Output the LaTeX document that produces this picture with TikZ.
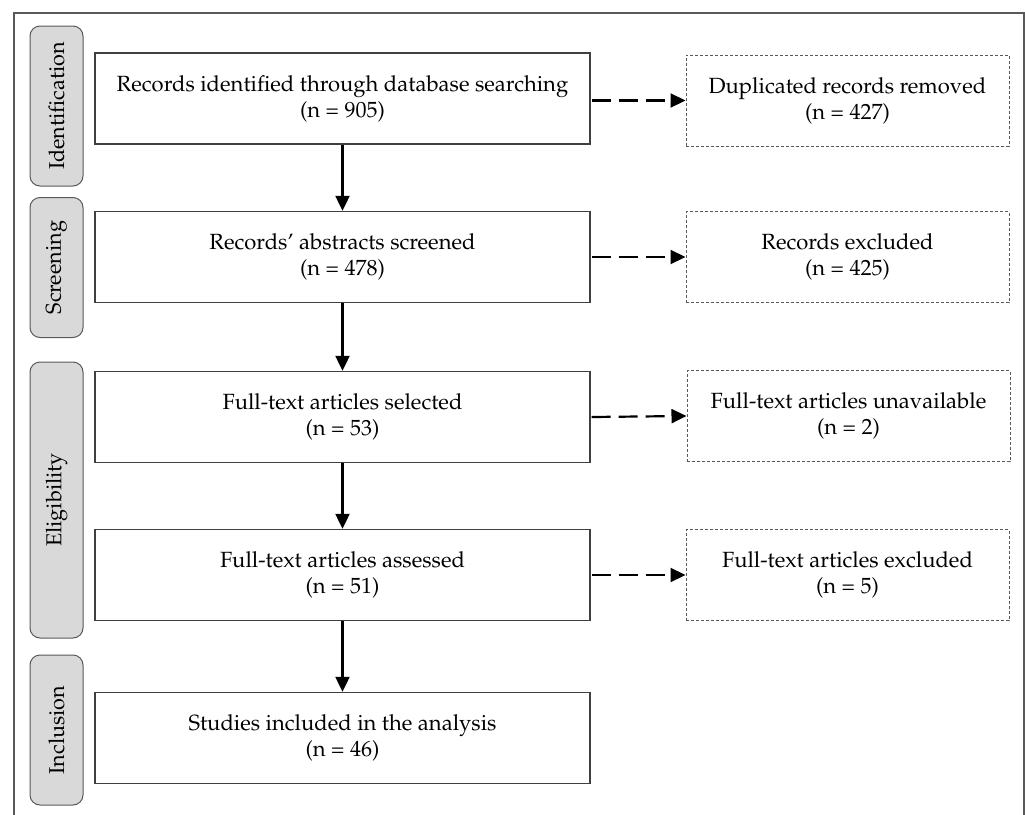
\documentclass[tikz,border=0pt]{standalone}
\usepackage[T1]{fontenc}
\usepackage{mathpazo}
\usepackage{tikz}
\usetikzlibrary{arrows.meta}

\tikzset{
    stagebox/.style={draw=black!65, fill=black!15, rounded corners=5pt, line width=0.5pt,
        minimum height=26.5pt, rotate=90, font=\fontsize{10.8}{13}\selectfont},
    mainbox/.style={draw=black!75, line width=0.7pt, minimum width=247.5pt, minimum height=45.5pt,
        align=center, font=\fontsize{11}{13}\selectfont},
    sidebox/.style={draw=black!65, dash pattern=on 1.5pt off 1pt, line width=0.5pt,
        minimum width=161.5pt, minimum height=45.5pt, align=center, font=\fontsize{11}{13}\selectfont},
    flow/.style={line width=1.1pt, -{Triangle[width=7pt,length=7.5pt]}},
    skip/.style={line width=1.1pt, dash pattern=on 9.5pt off 4pt, -{Triangle[width=7pt,length=7.5pt]}}
}

\begin{document}
\begin{tikzpicture}[x=0.5pt,y=-0.5pt]
    \useasboundingbox (0,0) rectangle (1025,815);
    % outer frame
    \draw[black!65, line width=0.6pt] (14,815) -- (14,13) -- (1024,13) -- (1024,815);

    % stages
    \node[stagebox, minimum width=80pt] (idf) at (56.5,106) {Identification};
    \node[stagebox, minimum width=70pt] (scr) at (56.5,267.5) {Screening};
    \node[stagebox, minimum width=138pt] (elg) at (56.5,500) {Eligibility};
    \node[stagebox, minimum width=75pt] (inc) at (56.5,730) {Inclusion};

    % main column
    \node[mainbox] (found) at (342.5,98.5) {Records identified through database searching\\(n = 905)};
    \node[mainbox] (screened) at (342.5,257) {Records' abstracts screened\\(n = 478)};
    \node[mainbox] (selected) at (342.5,417) {Full-text articles selected\\(n = 53)};
    \node[mainbox] (assessed) at (342.5,575) {Full-text articles assessed\\(n = 51)};
    \node[mainbox] (included) at (342.5,738) {Studies included in the analysis\\(n = 46)};

    % excluded column
    \node[sidebox] (dupl) at (847.5,100.5) {Duplicated records removed\\(n = 427)};
    \node[sidebox] (excl) at (847.5,257) {Records excluded\\(n = 425)};
    \node[sidebox] (unav) at (848.5,416) {Full-text articles unavailable\\(n = 2)};
    \node[sidebox] (fexcl) at (847.5,575) {Full-text articles excluded\\(n = 5)};

    \draw[flow] (found) -- (screened);
    \draw[flow] (screened) -- (selected);
    \draw[flow] (selected) -- (assessed);
    \draw[flow] (assessed) -- (included);

    \draw[skip] (found.east |- dupl) ++(0.5pt,0) -- (dupl.west);
    \draw[skip] (screened.east) ++(0.5pt,0) -- (excl.west);
    \draw[skip] (selected.east) ++(0.5pt,0) -- (unav.west);
    \draw[skip] (assessed.east) ++(0.5pt,0) -- (fexcl.west);
\end{tikzpicture}
\end{document}
